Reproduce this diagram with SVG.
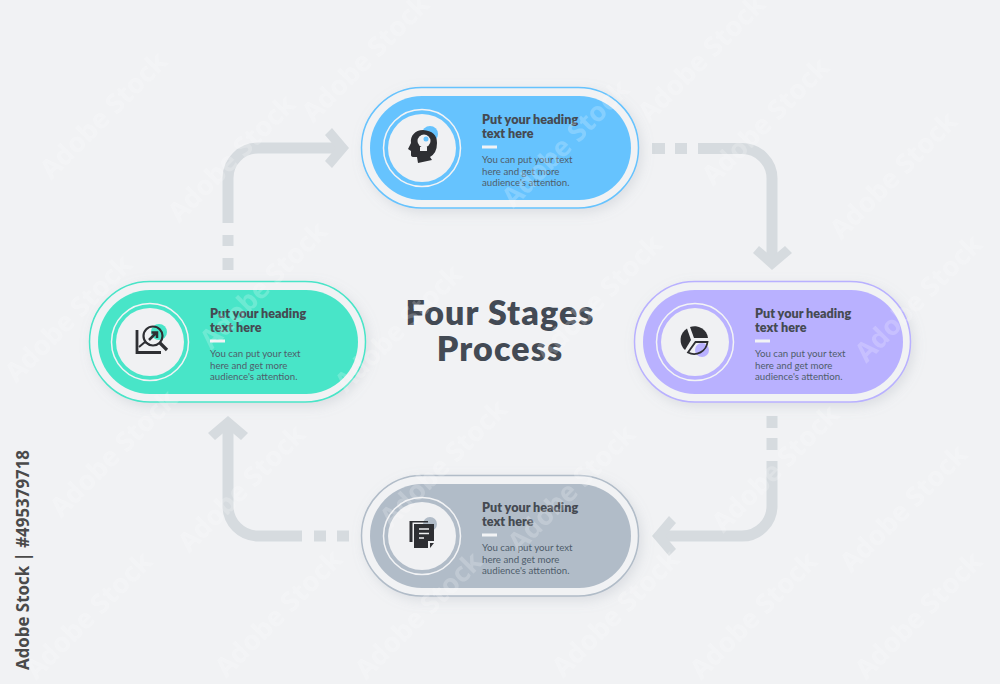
<svg xmlns="http://www.w3.org/2000/svg" width="1000" height="684" viewBox="0 0 1000 684">
<style>
.wm{font:700 27px "Open Sans",sans-serif;fill:#fff;opacity:.2;text-anchor:middle}
.dash{fill:none;stroke:#d6dbdf;stroke-width:11}
.head{fill:#d6dbdf}
.h{font:800 12.6px Lato,"Open Sans",sans-serif;fill:#454a52}
.b{font:400 9.7px Lato,"Open Sans",sans-serif;fill:#4f5d6b}
.t{font:800 34px Lato,"Open Sans",sans-serif;fill:#434a54;text-anchor:middle;letter-spacing:1.1px}
.ring{fill:none;stroke:#f2f3f5;stroke-width:1.5}
.disc{fill:#f0f1f3}
.ink{fill:#2e2f33}
.bar{fill:#f2f3f5}
</style>
<defs>
<filter id="sh" x="-15%" y="-30%" width="130%" height="160%"><feDropShadow dx="3" dy="4" stdDeviation="6" flood-color="#9aa3ad" flood-opacity=".25"/></filter>
</defs>
<rect width="1000" height="684" fill="#f1f2f4"/>
<g id="connectors">
<path class="dash" d="M652 148.500H665M675 148.500H687M698 148.500H742A30 30 0 0 1 772 178.500V262"/>
<polygon class="head" points="772,270 792,253 785,246 772,257 759,246 753,253"/>
<path class="dash" d="M772 416V428M772 438V450M772 461V506A30 30 0 0 1 742 536H660"/>
<polygon class="head" points="652,536 669,516 676,523 665,536 676,549 669,556"/>
<path class="dash" d="M349 536H337M326 536H314M302 536H258A30 30 0 0 1 228 506V424"/>
<polygon class="head" points="228,416 248,433 241,440 228,429 215,440 208,433"/>
<path class="dash" d="M228 270V258M228 246V235M228 223V178A30 30 0 0 1 258 148H341"/>
<polygon class="head" points="349,148 332,128 325,135 336,148 325,161 332,168"/>
</g>
<g id="stage-top">
<rect x="361.500" y="87.500" width="277" height="120.500" rx="60.250" fill="#f1f2f4" stroke="#66c3fe" stroke-width="1.500" filter="url(#sh)"/>
<rect x="370" y="96" width="261" height="104" rx="52" fill="#66c3fe"/>
<circle class="disc" cx="422" cy="148" r="34"/><circle class="ring" cx="422" cy="148" r="38.500"/>
<circle cx="430" cy="134" r="8" fill="#66c3fe"/>
<path class="ink" d="M423 130C415 130 410 136 411 143L408 149L411 151V155Q411 157 414 157H417L418 163L432 160L430 157Q437 153 437 143Q437 131 423 130Z"/>
<circle cx="424" cy="141" r="6.500" fill="#f0f1f3"/><circle cx="426" cy="139" r="2.500" fill="#66c3fe"/><rect x="420" y="147" width="7" height="4" fill="#f0f1f3"/>
<text class="h" x="482" y="124">Put your heading</text><text class="h" x="482" y="138">text here</text>
<rect class="bar" x="482" y="145.500" width="15" height="3"/>
<text class="b" x="482" y="163">You can put your text</text><text class="b" x="482" y="175">here and get more</text><text class="b" x="482" y="186">audience's attention.</text>
</g>
<g id="stage-right">
<rect x="634.500" y="281.500" width="276" height="120.500" rx="60.250" fill="#f1f2f4" stroke="#b9b1ff" stroke-width="1.500" filter="url(#sh)"/>
<rect x="643" y="290" width="260" height="104" rx="52" fill="#b9b1ff"/>
<circle class="disc" cx="695" cy="342" r="34"/><circle class="ring" cx="695" cy="342" r="38.500"/>
<circle cx="702" cy="350" r="7" fill="#b9b1ff"/>
<path class="ink" d="M687 328.500A13.500 13.500 0 0 0 685 350L691 340Z"/><path class="ink" d="M690 327A13.500 13.500 0 0 1 708 338L694 338Z"/>
<path d="M695.500 342H707.500A13.500 13.500 0 0 1 688 352.500Z" fill="none" stroke="#2e2f33" stroke-width="1.800"/>
<text class="h" x="755" y="318">Put your heading</text><text class="h" x="755" y="332">text here</text>
<rect class="bar" x="755" y="339.500" width="15" height="3"/>
<text class="b" x="755" y="357">You can put your text</text><text class="b" x="755" y="369">here and get more</text><text class="b" x="755" y="380">audience's attention.</text>
</g>
<g id="stage-bottom">
<rect x="361.500" y="475.500" width="277" height="120.500" rx="60.250" fill="#f1f2f4" stroke="#b1bcc8" stroke-width="1.500" filter="url(#sh)"/>
<rect x="370" y="484" width="261" height="104" rx="52" fill="#b1bcc8"/>
<circle class="disc" cx="422" cy="536" r="34"/><circle class="ring" cx="422" cy="536" r="38.500"/>
<circle cx="430" cy="524" r="7" fill="#b1bcc8"/>
<path class="ink" d="M409.500 521H428V522.500H412.500V542H409.500Z"/>
<path class="ink" d="M414 524H434V541H428V548H414Z"/>
<path class="ink" d="M430 548V543H434Z"/>
<path d="M419 529H429M419 533.500H429M419 538H424" stroke="#f0f1f3" stroke-width="1.500"/>
<text class="h" x="482" y="512">Put your heading</text><text class="h" x="482" y="526">text here</text>
<rect class="bar" x="482" y="533.500" width="15" height="3"/>
<text class="b" x="482" y="551">You can put your text</text><text class="b" x="482" y="563">here and get more</text><text class="b" x="482" y="574">audience's attention.</text>
</g>
<g id="stage-left">
<rect x="89.500" y="281.500" width="276" height="120.500" rx="60.250" fill="#f1f2f4" stroke="#48e5c8" stroke-width="1.500" filter="url(#sh)"/>
<rect x="98" y="290" width="260" height="104" rx="52" fill="#48e5c8"/>
<circle class="disc" cx="150" cy="342" r="34"/><circle class="ring" cx="150" cy="342" r="38.500"/>
<circle cx="159" cy="332" r="8" fill="#48e5c8"/>
<path d="M137 330V352.500H161" fill="none" stroke="#2e2f33" stroke-width="2.800"/>
<path d="M139 347L145 342L150 345" fill="none" stroke="#2e2f33" stroke-width="2"/>
<circle cx="153" cy="336" r="9.500" fill="none" stroke="#2e2f33" stroke-width="2.200"/>
<path d="M160 343L167 350" stroke="#2e2f33" stroke-width="3.200"/>
<path d="M149 340L156 333M151.500 332.500H157V338" fill="none" stroke="#2e2f33" stroke-width="2.500"/>
<text class="h" x="210" y="318">Put your heading</text><text class="h" x="210" y="332">text here</text>
<rect class="bar" x="210" y="339.500" width="15" height="3"/>
<text class="b" x="210" y="357">You can put your text</text><text class="b" x="210" y="369">here and get more</text><text class="b" x="210" y="380">audience's attention.</text>
</g>
<g id="title"><text class="t"><tspan x="500" y="325">Four Stages</tspan><tspan x="500" y="361">Process</tspan></text></g>
<text transform="translate(29,670) rotate(-90)" font-family="'Open Sans',sans-serif" font-size="16.900" font-weight="700" fill="#4a4a4a">Adobe Stock | #495379718</text>
<g id="watermark">
<text class="wm" transform="translate(110,122) rotate(-45)">Adobe Stock</text>
<text class="wm" transform="translate(238,165) rotate(-45)">Adobe Stock</text>
<text class="wm" transform="translate(372,65) rotate(-45)">Adobe Stock</text>
<text class="wm" transform="translate(708,65) rotate(-45)">Adobe Stock</text>
<text class="wm" transform="translate(572,150) rotate(-45)">Adobe Stock</text>
<text class="wm" transform="translate(772,128) rotate(-45)">Adobe Stock</text>
<text class="wm" transform="translate(900,182) rotate(-45)">Adobe Stock</text>
<text class="wm" transform="translate(270,292) rotate(-45)">Adobe Stock</text>
<text class="wm" transform="translate(605,305) rotate(-45)">Adobe Stock</text>
<text class="wm" transform="translate(925,305) rotate(-45)">Adobe Stock</text>
<text class="wm" transform="translate(75,325) rotate(-45)">Adobe Stock</text>
<text class="wm" transform="translate(405,335) rotate(-45)">Adobe Stock</text>
<text class="wm" transform="translate(120,460) rotate(-45)">Adobe Stock</text>
<text class="wm" transform="translate(450,470) rotate(-45)">Adobe Stock</text>
<text class="wm" transform="translate(782,475) rotate(-45)">Adobe Stock</text>
<text class="wm" transform="translate(248,495) rotate(-45)">Adobe Stock</text>
<text class="wm" transform="translate(578,495) rotate(-45)">Adobe Stock</text>
<text class="wm" transform="translate(910,515) rotate(-45)">Adobe Stock</text>
<text class="wm" transform="translate(285,620) rotate(-45)">Adobe Stock</text>
<text class="wm" transform="translate(622,620) rotate(-45)">Adobe Stock</text>
<text class="wm" transform="translate(95,622) rotate(-45)">Adobe Stock</text>
<text class="wm" transform="translate(425,622) rotate(-45)">Adobe Stock</text>
<text class="wm" transform="translate(760,622) rotate(-45)">Adobe Stock</text>
<text class="wm" transform="translate(925,622) rotate(-45)">Adobe Stock</text>
</g>
</svg>
